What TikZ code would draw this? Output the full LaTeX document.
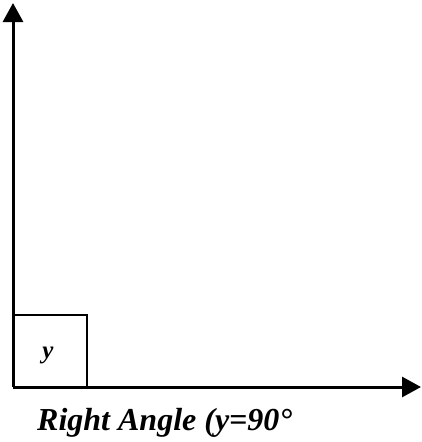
\documentclass[tikz,border=0pt]{standalone}
\usepackage{fontspec}
\setmainfont{Liberation Serif}
\usetikzlibrary{arrows.meta}
\begin{document}
\begin{tikzpicture}[x=1pt,y=-1pt,
  axis/.style={line width=3pt,-{Triangle[width=20pt,length=19pt]}},
  thin box/.style={line width=1.2pt}]
\useasboundingbox (0,0) rectangle (422,442);
\coordinate (o) at (13,387);
\coordinate (ytip) at (13,3);
\coordinate (xtip) at (421,387);
\draw[thin box] (13,315) -- (87,315) -- (87,387);
\draw[axis] (o) -- (ytip);
\draw[axis] (o) -- (xtip);
\node[font=\fontsize{25}{27}\selectfont\bfseries\itshape] (ylab) at (48,355) {y};
\node[font=\fontsize{32}{34}\selectfont\bfseries\itshape, anchor=base west, inner sep=0pt] (cap) at (37,430) {Right Angle (y=90°};
\end{tikzpicture}
\end{document}
